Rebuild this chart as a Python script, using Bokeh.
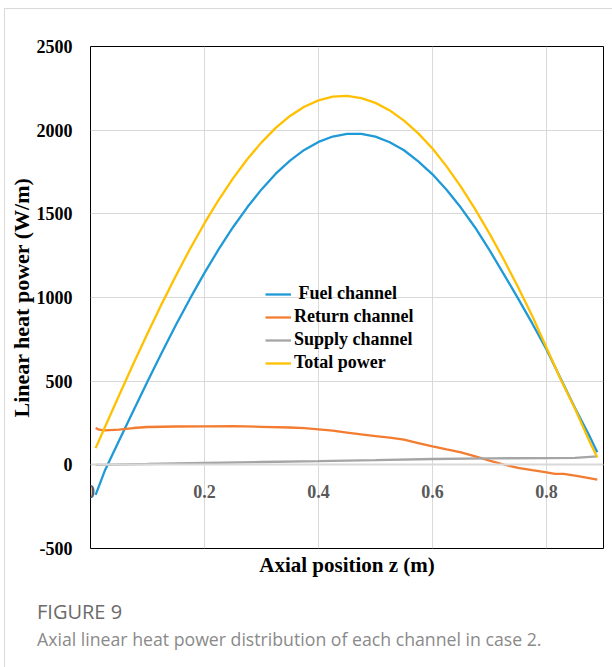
from bokeh.plotting import figure
from bokeh.models import FixedTicker, Legend, LegendItem, Title, Div
from bokeh.layouts import column
from bokeh.embed import file_html
from bokeh.resources import INLINE

# Axial position (m) and linear heat power (W/m) of each channel
z_main = [0.009, 0.025, 0.05, 0.075, 0.10, 0.125, 0.15, 0.175, 0.20, 0.225, 0.25, 0.275,
          0.30, 0.325, 0.35, 0.375, 0.40, 0.425, 0.45, 0.475, 0.50, 0.525, 0.55, 0.575,
          0.60, 0.625, 0.65, 0.675, 0.70, 0.725, 0.75, 0.775, 0.80, 0.825, 0.85, 0.875, 0.889]

fuel = [-180, -36, 144, 322, 498, 670, 837, 996, 1147, 1289, 1420, 1539,
        1646, 1740, 1818, 1882, 1930, 1962, 1978, 1978, 1961, 1928, 1880, 1814,
        1736, 1642, 1536, 1417, 1283, 1140, 995, 845, 690, 515, 340, 175, 75]

total = [100, 223, 414, 602, 785, 962, 1131, 1293, 1444, 1584, 1712, 1826,
         1927, 2014, 2085, 2140, 2178, 2200, 2205, 2192, 2163, 2118, 2057, 1981,
         1890, 1782, 1661, 1527, 1382, 1227, 1063, 889, 700, 510, 335, 143, 45]

z_return = [0.009, 0.015, 0.025, 0.05, 0.075, 0.10, 0.15, 0.20, 0.25, 0.30, 0.35, 0.375,
            0.40, 0.425, 0.45, 0.475, 0.50, 0.525, 0.55, 0.575, 0.60, 0.625, 0.65, 0.675,
            0.70, 0.725, 0.75, 0.775, 0.80, 0.815, 0.83, 0.85, 0.87, 0.889]
ret = [220, 210, 206, 210, 220, 226, 229, 230, 231, 227, 223, 219,
       212, 204, 193, 182, 172, 162, 150, 130, 110, 92, 75, 50,
       25, 2, -18, -32, -45, -54, -54, -65, -76, -88]

z_supply = [0.009, 0.10, 0.20, 0.30, 0.40, 0.50, 0.60, 0.70, 0.80, 0.85, 0.889]
supply = [0, 5, 11, 17, 22, 28, 35, 39, 40, 42, 50]

x_ticks = [0, 0.2, 0.4, 0.6, 0.8]
x_tick_labels = ["0", "0.2", "0.4", "0.6", "0.8"]
y_ticks = [-500, 0, 500, 1000, 1500, 2000, 2500]
y_tick_labels = ["-500", "0", "500", "1000", "1500", "2000", "2500"]

series_names = [" Fuel channel", "Return channel", "Supply channel", "Total power"]
series_colors = ["#1f9ad7", "#f47c30", "#a5a5a5", "#ffc000"]

caption_label = "FIGURE 9"
caption_text = "Axial linear heat power distribution of each channel in case 2."

SERIF = "Liberation Serif"

p = figure(width=607, height=576, x_range=(0, 0.9), y_range=(-500, 2500),
           output_backend="svg", toolbar_location=None,
           min_border_left=80, min_border_right=9, min_border_top=37, min_border_bottom=37)

p.outline_line_color = "black"
p.outline_line_width = 1
p.background_fill_color = "white"
p.border_fill_color = "white"

p.xgrid.ticker = FixedTicker(ticks=x_ticks)
p.ygrid.ticker = FixedTicker(ticks=y_ticks)
p.grid.grid_line_color = "#d9d9d9"
p.grid.grid_line_width = 1

# x axis sits on the zero line, labels just beneath it
xa = p.xaxis[0]
xa.fixed_location = 0
xa.ticker = FixedTicker(ticks=x_ticks)
xa.major_label_overrides = dict(zip(x_ticks, x_tick_labels))
xa.major_tick_line_color = None
xa.minor_tick_line_color = None
xa.axis_line_color = "#d9d9d9"
xa.axis_line_width = 2
xa.major_label_standoff = 14
xa.major_label_text_font = SERIF
xa.major_label_text_font_style = "bold"
xa.major_label_text_font_size = "18px"
xa.major_label_text_color = "#595959"

ya = p.yaxis[0]
ya.ticker = FixedTicker(ticks=y_ticks)
ya.major_label_overrides = dict(zip(y_ticks, y_tick_labels))
ya.major_tick_line_color = None
ya.minor_tick_line_color = None
ya.axis_line_color = None
ya.major_label_standoff = 12
ya.major_label_text_font = SERIF
ya.major_label_text_font_style = "bold"
ya.major_label_text_font_size = "18px"
ya.major_label_text_color = "black"
ya.axis_label = "Linear heat power (W/m)"
ya.axis_label_text_font = SERIF
ya.axis_label_text_font_style = "bold"
ya.axis_label_text_font_size = "22px"
ya.axis_label_text_color = "black"
ya.axis_label_standoff = 0

r_fuel = p.line(z_main, fuel, line_color=series_colors[0], line_width=2.3)
r_ret = p.line(z_return, ret, line_color=series_colors[1], line_width=2.3)
r_sup = p.line(z_supply, supply, line_color=series_colors[2], line_width=2.3)
r_tot = p.line(z_main, total, line_color=series_colors[3], line_width=2.3)

legend = Legend(
    items=[LegendItem(label=n, renderers=[r]) for n, r in
           zip(series_names, [r_fuel, r_ret, r_sup, r_tot])],
    location=(175, 175), padding=0, margin=0, spacing=2,
    glyph_width=26, glyph_height=20, label_height=20, label_standoff=3,
    border_line_color=None, background_fill_alpha=0,
    label_text_font=SERIF, label_text_font_style="bold", label_text_font_size="18px",
    label_text_color="black",
)
p.add_layout(legend)

p.add_layout(Title(text="Axial position z (m)", align="center", text_font=SERIF,
                   text_font_style="bold", text_font_size="21px", text_color="black",
                   standoff=4), "below")

# figure caption underneath the chart
caption = Div(
    text=(
        '<div style="margin:17px 0 0 32px;font-family:\'Open Sans\';font-size:20px;'
        'line-height:20px;color:#6b6b6b;white-space:nowrap;">' + caption_label + '</div>'
        '<div style="margin:8px 0 0 32px;font-family:\'Open Sans\';font-size:17.7px;'
        'line-height:18px;color:#8a8a8a;white-space:nowrap;">' + caption_text + '</div>'
    ),
    width=607, height=82, margin=0,
)

page = column(p, caption, spacing=0)
page.margin = (8, 0, 0, 4)
page.styles = {"border-left": "1px solid #d9d9d9", "border-top": "1px solid #d9d9d9"}

open("out.html", "w").write(file_html(page, INLINE))
